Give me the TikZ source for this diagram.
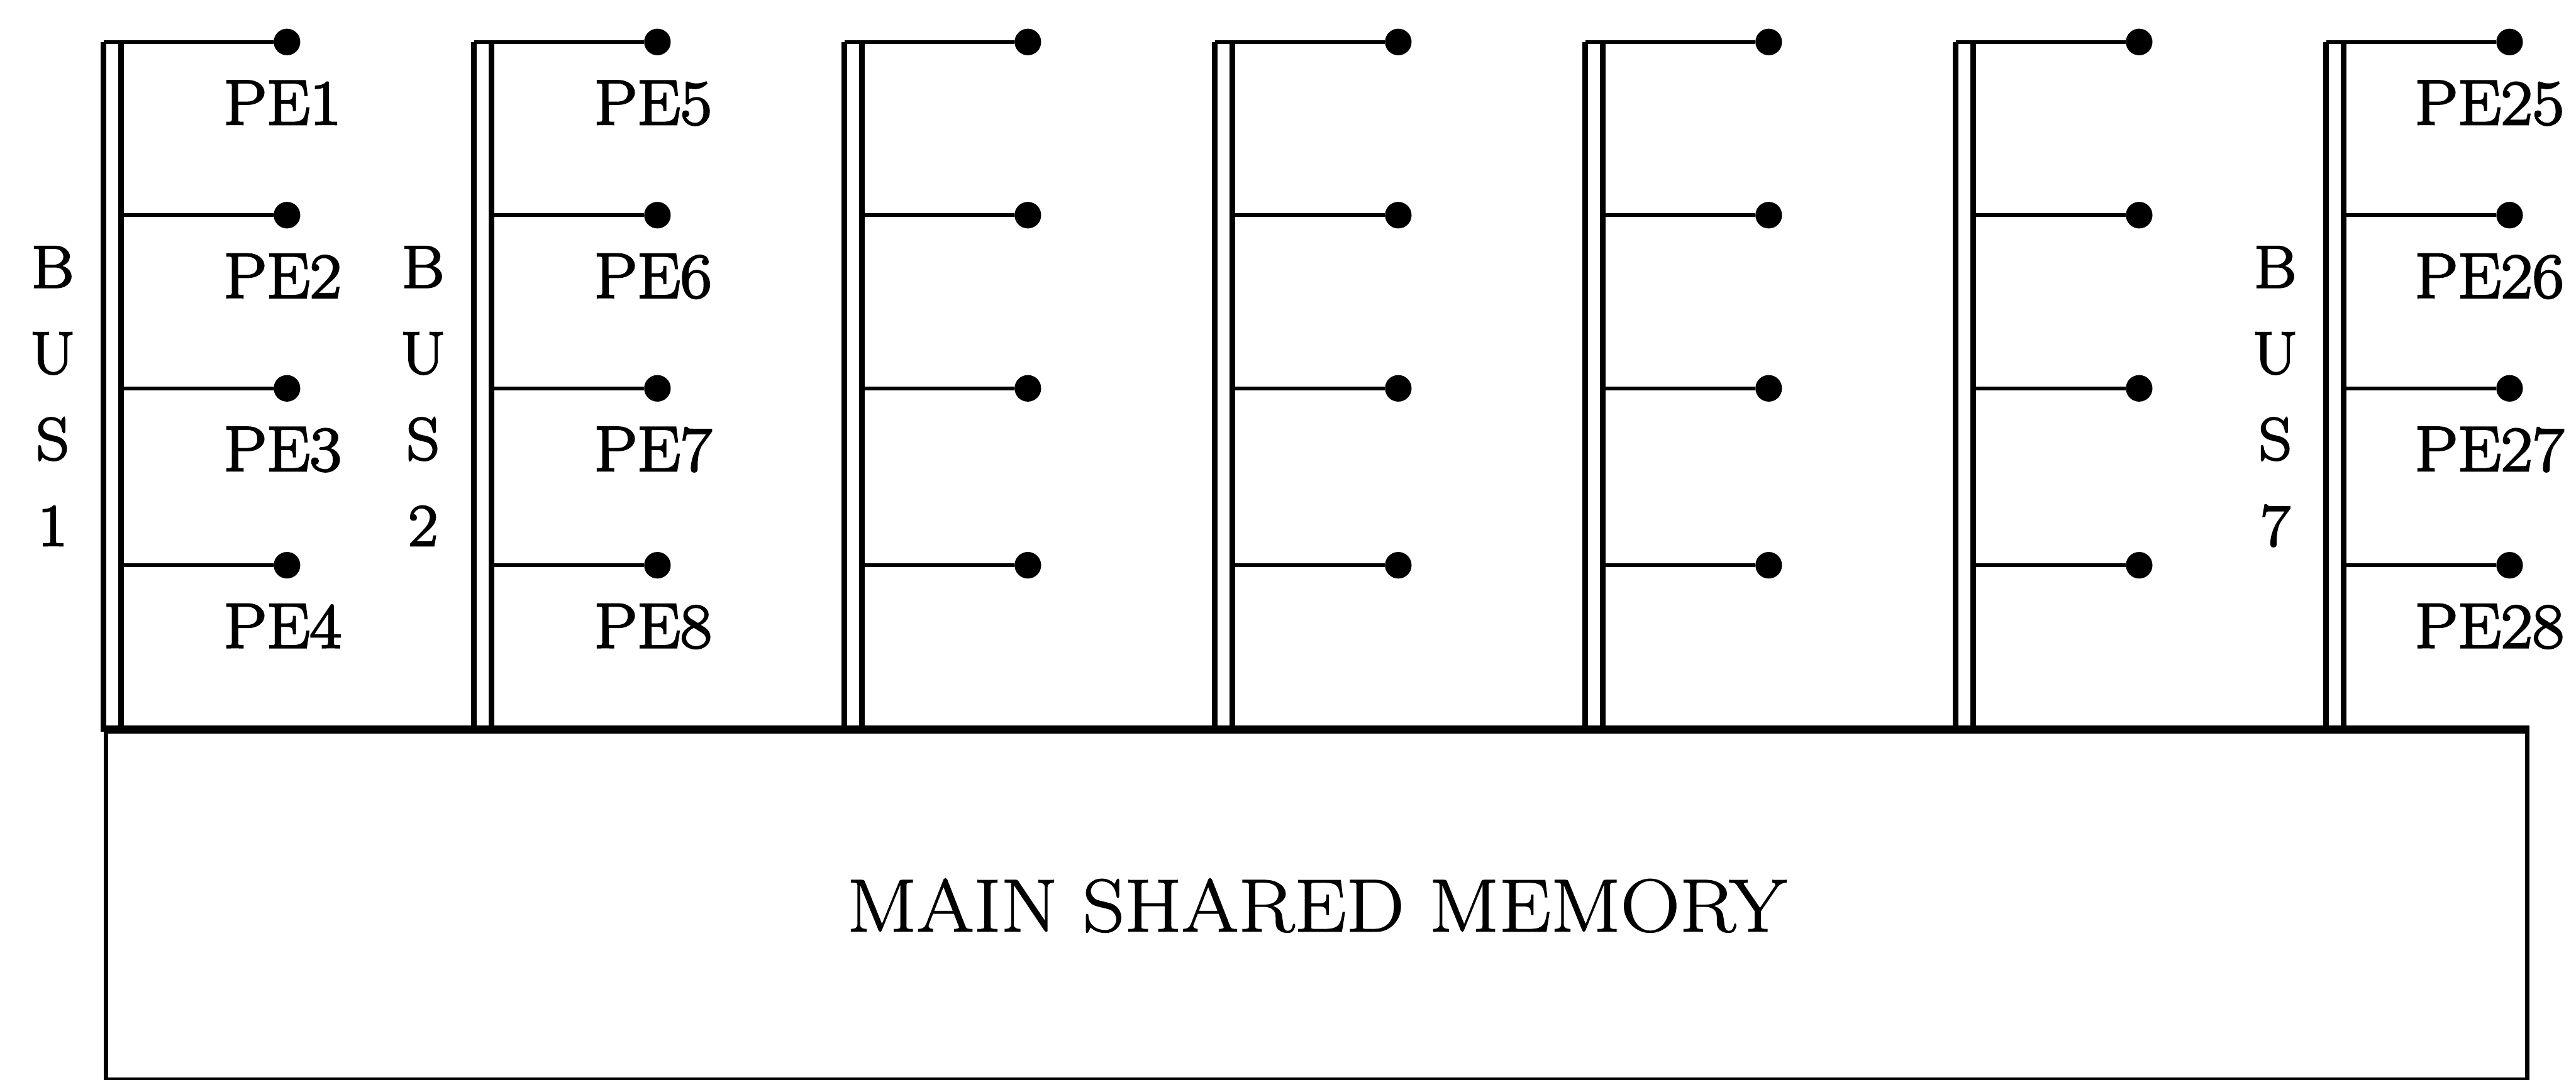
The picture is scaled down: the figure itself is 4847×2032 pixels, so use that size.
\documentclass[tikz,border=0pt]{standalone}
\usepackage{fontspec}
\setmainfont{Latin Modern Roman}
% heavy, slightly widened faces for the labels and the memory title
\newfontfamily\lblfont[FakeBold=3,FakeStretch=1.08]{Latin Modern Roman}
\newfontfamily\memfont[FakeBold=1.4,FakeStretch=1.1]{Latin Modern Roman}
\begin{document}
\begin{tikzpicture}[x=0.01cm,y=-0.01cm,
  busline/.style={line width=3.1pt},
  stub/.style={line width=2pt},
  pedot/.style={circle,fill=black,inner sep=0pt,minimum size=0.5cm},
  pelabel/.style={anchor=base east,inner sep=0pt,font=\lblfont\fontsize{34}{40}\selectfont},
  buslabel/.style={anchor=base,inner sep=0pt,font=\lblfont\fontsize{32}{38}\selectfont},
  memory/.style={draw,line width=2.3pt,rectangle,inner sep=0pt,
    minimum width=45.53cm,minimum height=6.55cm,font=\memfont\fontsize{40}{48}\selectfont}]
\useasboundingbox (0,0) rectangle (4847,2032);

% shared memory block
\node[memory] (mem) at (2477.5,1704.5) {MAIN SHARED MEMORY};
\draw[line width=4pt] (mem.north west) -- (mem.north east);

% seven double-line buses, each with four processing elements
\foreach \i in {1,...,7}{
  \pgfmathsetmacro{\X}{195+697*(\i-1)}
  \coordinate (bo\i-top) at (\X,79);
  \coordinate (bo\i-bot) at (\X,1377);
  \coordinate (bi\i-top) at (\X+33,79);
  \coordinate (bi\i-bot) at (\X+33,1377);
  \draw[busline] (bo\i-top) -- (bo\i-bot);
  \draw[busline] (bi\i-top) -- (bi\i-bot);
  \foreach \r/\y in {1/79,2/405,3/731,4/1064}{
    \node[pedot] (d\i-\r) at (\X+345,\y) {};
  }
  \draw[stub] (bo\i-top) -- (d\i-1);
  \foreach \r/\y in {2/405,3/731,4/1064}{
    \coordinate (t\i-\r) at (\X+33,\y);
    \draw[stub] (t\i-\r) -- (d\i-\r);
  }
}

% bus names and processing element labels
\foreach \i in {1,2,7}{
  \pgfmathsetmacro{\X}{195+697*(\i-1)}
  \node[buslabel] (bus\i-b) at (\X-96,541) {B};
  \node[buslabel] (bus\i-u) at (\X-96,703) {U};
  \node[buslabel] (bus\i-s) at (\X-96,865) {S};
  \node[buslabel] (bus\i-n) at (\X-96,1027) {\i};
  \foreach \r/\y in {1/79,2/405,3/731,4/1064}{
    \pgfmathtruncatemacro{\k}{4*(\i-1)+\r}
    \node[pelabel] (pe\k) at (\X+448,\y+155) {PE\k};
  }
}
\end{tikzpicture}
\end{document}
